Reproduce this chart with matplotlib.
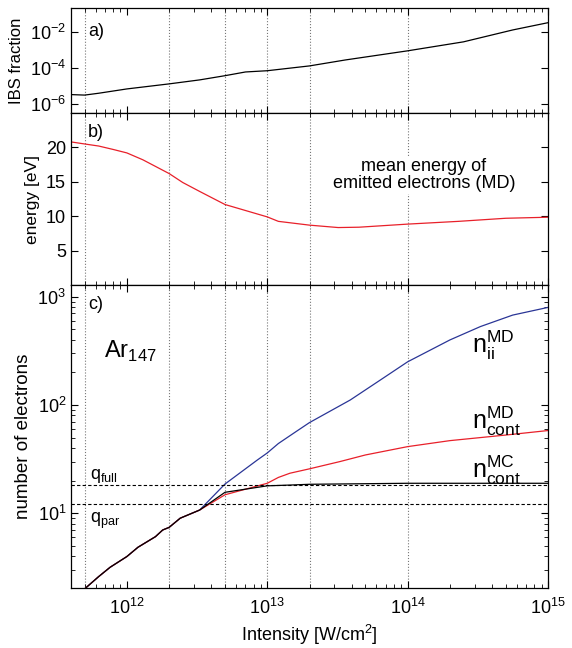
import matplotlib
matplotlib.use('Agg')
import matplotlib.pyplot as plt
import numpy as np

plt.rcParams['font.family'] = ['Liberation Sans', 'DejaVu Sans']
plt.rcParams['mathtext.fontset'] = 'custom'
plt.rcParams['mathtext.rm'] = 'Liberation Sans'

# a) IBS fraction
ibs_x = [4e11, 5e11, 6.3e11, 1e12, 2e12, 3.3e12, 5e12, 7e12, 1e13, 2e13, 3.6e13, 1e14, 2.5e14, 5.6e14, 1e15]
ibs_y = [3.2e-6, 3.0e-6, 3.8e-6, 6.6e-6, 1.26e-5, 2.1e-5, 3.6e-5, 5.8e-5, 6.8e-5, 1.26e-4, 2.7e-4, 8.7e-4, 2.75e-3, 1.26e-2, 3.2e-2]

# b) mean energy of emitted electrons
en_x = [4e11, 5e11, 6.3e11, 8e11, 1e12, 1.3e12, 2e12, 2.5e12, 3.3e12, 5e12, 1e13, 1.2e13, 2e13, 3.2e13, 4.5e13, 1e14, 2.3e14, 5e14, 1e15]
en_y = [20.8, 20.5, 20.2, 19.7, 19.2, 18.2, 16.2, 14.9, 13.6, 11.7, 9.9, 9.25, 8.7, 8.35, 8.4, 8.85, 9.25, 9.7, 9.85]

# c) number of electrons
low_x = [5e11, 6.3e11, 7.6e11, 1e12, 1.2e12, 1.6e12, 1.8e12, 2e12, 2.4e12, 3.3e12]
low_y = [2.0, 2.6, 3.17, 3.98, 4.85, 6.08, 7.0, 7.4, 9.0, 10.7]

nii_x = [5e12, 8.5e12, 1e13, 1.2e13, 1.6e13, 2e13, 3.9e13, 6.4e13, 1e14, 2e14, 3.3e14, 5.6e14, 1e15]
nii_y = [18.6, 31, 36, 44, 56.6, 68.7, 111, 170, 250, 398, 529, 675, 795]

ncont_md_x = [5e12, 1e13, 1.2e13, 1.45e13, 2e13, 3.3e13, 5e13, 1e14, 2e14, 5e14, 1e15]
ncont_md_y = [14.8, 18.9, 21.4, 23.4, 25.7, 30, 34.5, 41.2, 46.8, 52.7, 58]

ncont_mc_x = [5e12, 1e13, 1.45e13, 2e13, 1e14, 1e15]
ncont_mc_y = [15.6, 17.9, 18.2, 18.5, 18.9, 18.9]

q_full = 18.2
q_par = 12.1
vlines = [5e11, 2e12, 5e12, 1e13, 2e13, 1e14]

red = '#e8202a'
blue = '#2a3596'

fig = plt.figure(figsize=(5.72, 6.48), dpi=100)
axa = fig.add_axes([0.1241, 0.8256, 0.834, 0.1620])
axb = fig.add_axes([0.1241, 0.5602, 0.834, 0.2654])
axc = fig.add_axes([0.1241, 0.0926, 0.834, 0.4676])

for ax in (axa, axb, axc):
    ax.set_xscale('log')
    ax.set_xlim(4e11, 1e15)
    for v in vlines:
        ax.axvline(v, color='#777777', ls=':', lw=0.8, zorder=0)
    ax.tick_params(which='both', direction='in', top=True, right=True, labelsize=13)
    ax.tick_params(which='major', length=5)
    ax.tick_params(which='minor', length=3)
    for s in ax.spines.values():
        s.set_linewidth(0.9)

axa.tick_params(labelbottom=False)
axb.tick_params(labelbottom=False)
axc.tick_params(axis='x', which='major', pad=7)

# panel a
axa.plot(ibs_x, ibs_y, color='black', lw=0.9)
axa.set_yscale('log')
axa.set_ylim(10**-6.52, 10**-0.68)
axa.set_yticks([1e-6, 1e-4, 1e-2])
axa.yaxis.set_minor_locator(matplotlib.ticker.NullLocator())
axa.set_ylabel('IBS fraction', fontsize=12)
axa.text(0.036, 0.774, 'a)', transform=axa.transAxes, fontsize=13, va='center')

# panel b
axb.plot(en_x, en_y, color=red, lw=0.9)
axb.set_ylim(0, 25)
axb.set_yticks([5, 10, 15, 20])
axb.set_ylabel('energy [eV]', fontsize=12.5)
axb.text(0.036, 0.884, 'b)', transform=axb.transAxes, fontsize=13, va='center')
axb.text(0.74, 0.64, 'mean energy of\nemitted electrons (MD)', transform=axb.transAxes,
         fontsize=13, ha='center', va='center', linespacing=1.05,
         bbox=dict(facecolor='white', edgecolor='none', pad=1))

# panel c
axc.plot(low_x + nii_x, low_y + nii_y, color=blue, lw=0.9)
axc.plot(low_x + ncont_md_x, low_y + ncont_md_y, color=red, lw=0.9)
axc.plot(low_x + ncont_mc_x, low_y + ncont_mc_y, color='black', lw=0.9)
axc.axhline(q_full, color='black', ls=(0, (3, 2)), lw=0.8)
axc.axhline(q_par, color='black', ls=(0, (3, 2)), lw=0.8)
axc.set_yscale('log')
axc.set_ylim(2.04, 1280)
axc.set_ylabel('number of electrons', fontsize=13.5)
axc.set_xlabel('Intensity [W/cm$^2$]', fontsize=13)
axc.text(0.036, 0.934, 'c)', transform=axc.transAxes, fontsize=13, va='center')
axc.text(0.07, 0.78, r'Ar$_{147}$', transform=axc.transAxes, fontsize=17, va='center')
axc.text(0.04, 0.37, r'q$_{\rm full}$', transform=axc.transAxes, fontsize=13, va='center')
axc.text(0.04, 0.22, r'q$_{\rm par}$', transform=axc.transAxes, fontsize=13, va='center')
axc.text(0.84, 0.80, r'n$_{\rm ii}^{\rm MD}$', transform=axc.transAxes, fontsize=18, va='center')
axc.text(0.84, 0.55, r'n$_{\rm cont}^{\rm MD}$', transform=axc.transAxes, fontsize=18, va='center')
axc.text(0.84, 0.39, r'n$_{\rm cont}^{\rm MC}$', transform=axc.transAxes, fontsize=18, va='center')

fig.savefig('out.png', dpi=100)
